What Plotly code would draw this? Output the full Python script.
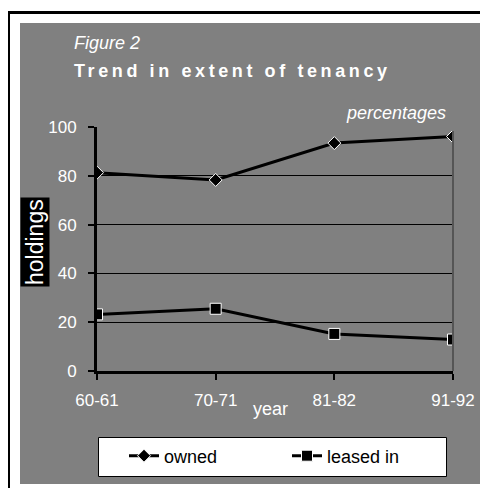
import plotly.graph_objects as go

years = ["60-61", "70-71", "81-82", "91-92"]
owned = [81.3, 78.3, 93.4, 96.1]
leased_in = [23.2, 25.5, 15.2, 12.9]
y_ticks = [0, 20, 40, 60, 80, 100]

OFF = 8  # browser body margin
FW, FH = 480, 480
# plot area in screen pixels
L, R, T, B = 97, 453, 127, 371
W = R - L
H = B - T


def px(x):
    return (x - L) / W


def py(y):
    return (B - y) / H


def cy(y):
    return 1 - (y - OFF) / FH


def cx(x):
    return (x - OFF) / FW


fig = go.Figure()
fig.add_trace(go.Scatter(
    x=years, y=owned, name="owned", mode="lines+markers",
    line=dict(color="black", width=3),
    marker=dict(symbol="diamond", size=10, color="black", line=dict(color="white", width=1)),
))
fig.add_trace(go.Scatter(
    x=years, y=leased_in, name="leased in", mode="lines+markers",
    line=dict(color="black", width=3),
    marker=dict(symbol="square", size=11, color="black", line=dict(color="white", width=1)),
))

shapes = [
    dict(type="rect", xref="paper", yref="paper", x0=px(20), x1=px(481), y0=py(484), y1=py(23),
         fillcolor="#808080", line=dict(width=0), layer="below"),
    dict(type="rect", xref="paper", yref="paper", x0=px(8.5), x1=px(560), y0=py(560), y1=py(12.5),
         fillcolor="rgba(0,0,0,0)", line=dict(color="black", width=3), layer="below"),
    dict(type="rect", xref="paper", yref="paper", x0=px(305), x1=px(456), y0=py(131), y1=py(105),
         fillcolor="#808080", line=dict(width=0), layer="above"),
    dict(type="line", xref="paper", yref="paper", x0=1, x1=1, y0=0, y1=py(131),
         line=dict(color="#555555", width=2), layer="above"),
    # legend box
    dict(type="rect", xref="paper", yref="paper", x0=px(98.5), x1=px(446.5), y0=py(476.5), y1=py(437.5),
         fillcolor="white", line=dict(color="black", width=1), layer="above"),
]

annotations = [
    dict(text="<i>Figure 2</i>", xref="paper", yref="paper", x=px(72), y=py(43),
         xanchor="left", yanchor="middle", showarrow=False,
         font=dict(family="Arial", size=18, color="white")),
    dict(text='<b><span style="letter-spacing:3.6px">Trend in extent of tenancy</span></b>',
         xref="paper", yref="paper", x=px(72), y=py(71),
         xanchor="left", yanchor="middle", showarrow=False,
         font=dict(family="Arial", size=18, color="white")),
    dict(text="<i>percentages</i>", xref="paper", yref="paper", x=px(396), y=py(113),
         xanchor="center", yanchor="middle", showarrow=False,
         font=dict(family="Arial", size=18, color="white")),
    dict(text="holdings", xref="paper", yref="paper", x=px(35), y=py(242),
         xanchor="center", yanchor="middle", showarrow=False, textangle=-90,
         bgcolor="black", borderpad=1,
         font=dict(family="Arial", size=23, color="white")),
    dict(text="year", xref="paper", yref="paper", x=px(270), y=py(409),
         xanchor="center", yanchor="middle", showarrow=False,
         font=dict(family="Arial", size=18, color="white")),
]

fig.update_layout(
    width=FW, height=FH,
    margin=dict(l=L - OFF, r=FW - (R - OFF), t=T - OFF, b=FH - (B - OFF)),
    paper_bgcolor="white",
    plot_bgcolor="white",
    shapes=shapes,
    annotations=annotations,
    showlegend=True,
    legend=dict(
        orientation="h", xref="container", yref="container",
        x=cx(124), y=cy(456), xanchor="left", yanchor="middle",
        bgcolor="rgba(0,0,0,0)", borderwidth=0,
        font=dict(family="Arial", size=18, color="black"),
        entrywidth=118, entrywidthmode="pixels",
    ),
    xaxis=dict(
        type="category", range=[0, 3], showgrid=False, zeroline=False,
        showline=True, linecolor="black", linewidth=3,
        ticks="outside", ticklen=6, tickwidth=2, tickcolor="black",
        ticklabelstandoff=6,
        tickfont=dict(family="Arial", size=17, color="white"),
    ),
    yaxis=dict(
        range=[0, 100], tickvals=y_ticks, showgrid=True, gridcolor="black", gridwidth=1,
        zeroline=False, showline=True, linecolor="black", linewidth=3,
        ticks="outside", ticklen=6, tickwidth=2, tickcolor="black",
        ticklabelstandoff=8,
        tickfont=dict(family="Arial", size=17, color="white"),
    ),
)

fig.write_html("out.html")
